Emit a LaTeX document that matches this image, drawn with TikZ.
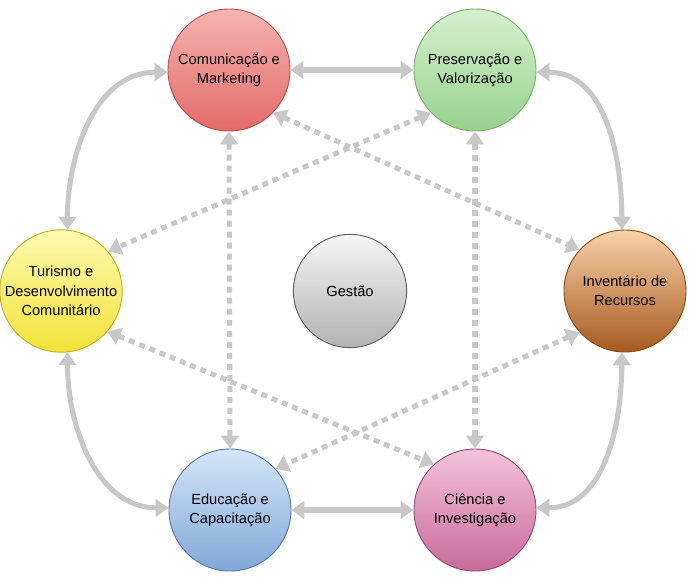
\documentclass[tikz,border=0pt]{standalone}
\usepackage{fontspec}
\setmainfont{Liberation Sans}
\usepackage{tikz}
\usetikzlibrary{arrows.meta}
\definecolor{lnk}{HTML}{C8C8C8}
\definecolor{comtop}{HTML}{F6B4B2}
\definecolor{combot}{HTML}{E26A68}
\definecolor{comrim}{HTML}{B05452}
\definecolor{pretop}{HTML}{D6F0CE}
\definecolor{prebot}{HTML}{96D28C}
\definecolor{prerim}{HTML}{7DB06F}
\definecolor{turtop}{HTML}{FFFAB0}
\definecolor{turbot}{HTML}{F2E238}
\definecolor{turrim}{HTML}{C9AE2A}
\definecolor{invtop}{HTML}{F9D2AA}
\definecolor{invbot}{HTML}{A65A1E}
\definecolor{invrim}{HTML}{8C4A14}
\definecolor{edutop}{HTML}{D4E6F8}
\definecolor{edubot}{HTML}{80A8D8}
\definecolor{edurim}{HTML}{5A78A6}
\definecolor{cietop}{HTML}{F4C2DA}
\definecolor{ciebot}{HTML}{C86A9A}
\definecolor{cierim}{HTML}{8E4E70}
\definecolor{gestop}{HTML}{F6F6F6}
\definecolor{gesbot}{HTML}{B2B2B2}
\definecolor{gesrim}{HTML}{5E5E5E}

\begin{document}
\begin{tikzpicture}[x=0.03cm, y=-0.03cm,
  hub/.style={circle, minimum size=3.66cm, inner sep=0pt, align=center,
    font=\fontsize{12.5}{16.5}\selectfont, line width=0.8pt},
  lk/.style={lnk, line width=4.3pt,
    {Triangle[length=11pt,width=15pt]}-{Triangle[length=11pt,width=15pt]}},
  dl/.style={lk, line cap=butt, dash pattern=on 5.1pt off 4.3pt}]
\useasboundingbox (0,0) rectangle (692,579);
% circles
\node[hub, draw=comrim, top color=comtop, bottom color=combot] (com) at (229,70) {Comunicação e\\Marketing};
\node[hub, draw=prerim, top color=pretop, bottom color=prebot] (pre) at (475,70) {Preservação e\\Valorização};
\node[hub, draw=turrim, top color=turtop, bottom color=turbot] (tur) at (61,291) {Turismo e\\Desenvolvimento\\Comunitário};
\node[hub, draw=invrim, top color=invtop, bottom color=invbot] (inv) at (625,291) {Inventário de\\Recursos};
\node[hub, draw=edurim, top color=edutop, bottom color=edubot] (edu) at (230,510) {Educação e\\Capacitação};
\node[hub, draw=cierim, top color=cietop, bottom color=ciebot] (cie) at (475,510) {Ciência e\\Investigação};
\node[hub, minimum size=3.4cm, draw=gesrim, top color=gestop, bottom color=gesbot] (ges) at (350,291) {Gestão};
% solid links
\draw[lk] (com.east) -- (pre.west);
\draw[lk] (edu.east) -- (cie.west);
\draw[lk] (tur.84) to[out=90, in=180] (com.182);
\draw[lk] (pre.-2) to[out=0, in=90] (inv.93);
\draw[lk] (tur.-84) to[out=-90, in=180] (edu.178);
\draw[lk] (inv.-93) to[out=-90, in=0] (cie.2);
% dotted links
\draw[dl] (com.south) -- (edu.north);
\draw[dl] (pre.south) -- (cie.north);
\draw[dl] (com.-44) -- (inv.138);
\draw[dl] (pre.224) -- (tur.40);
\draw[dl] (tur.-41) -- (cie.132);
\draw[dl] (inv.222) -- (edu.42);
\end{tikzpicture}
\end{document}
